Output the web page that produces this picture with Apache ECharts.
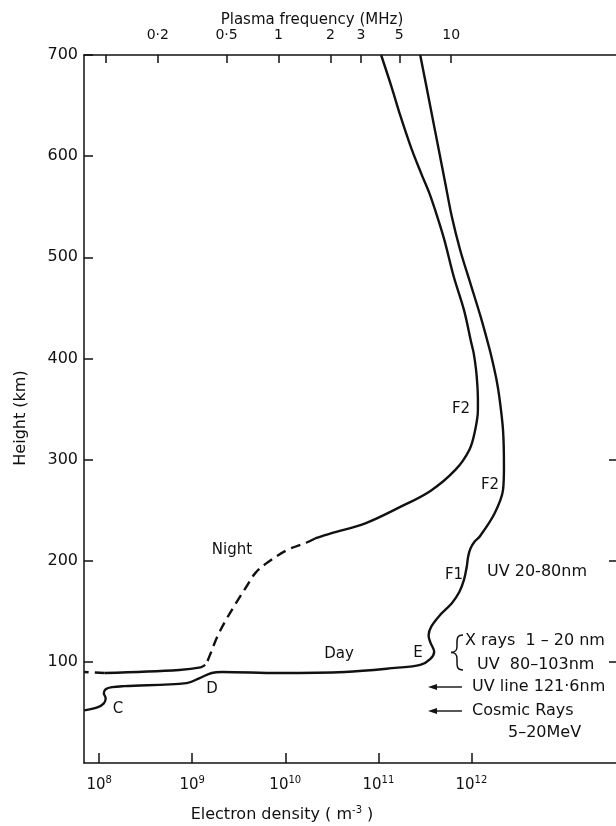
<!DOCTYPE html>
<html>
<head>
<meta charset="utf-8">
<script src="https://cdn.jsdelivr.net/npm/echarts@6/dist/echarts.min.js"></script>
<style>
html, body { margin: 0; padding: 0; background: #fff; }
#chart { width: 616px; height: 826px; }
</style>
</head>
<body>
<div id="chart"></div>
<script>
// log10 of electron density (m^-3) against height (km)
var dayProfile = [
	[7.84, 52], [7.98, 55], [8.05, 59], [8.07, 64], [8.05, 69], [8.07, 73], [8.14, 75],
	[8.27, 76], [8.94, 79], [9.08, 84], [9.21, 89], [9.32, 90], [9.93, 89], [10.64, 90],
	[11.18, 94], [11.45, 97], [11.56, 103], [11.60, 110], [11.56, 119], [11.54, 126],
	[11.57, 135], [11.67, 147], [11.79, 158], [11.87, 169], [11.92, 181], [11.95, 194],
	[11.965, 204], [11.99, 212], [12.035, 219], [12.09, 224], [12.25, 247], [12.34, 270],
	[12.35, 293], [12.34, 329], [12.30, 362], [12.27, 379], [12.225, 398], [12.19, 411],
	[12.10, 441], [11.99, 474], [11.88, 507], [11.79, 540], [11.72, 573], [11.65, 606],
	[11.58, 639], [11.51, 672], [11.45, 700]
];
var nightUpper = [
	[11.03, 700], [11.14, 669], [11.24, 639], [11.35, 609], [11.46, 583], [11.55, 563],
	[11.62, 544], [11.71, 517], [11.81, 481], [11.92, 448], [12.00, 415], [12.025, 405],
	[12.05, 389], [12.065, 372], [12.07, 360], [12.07, 349], [12.04, 329], [11.98, 310],
	[11.83, 290], [11.56, 269], [11.21, 252], [10.86, 237], [10.49, 227], [10.32, 222]
];
var nightDashed = [
	[10.32, 222], [10.23, 218], [10.03, 211], [9.82, 199], [9.68, 188], [9.58, 174],
	[9.47, 158], [9.36, 141], [9.27, 125], [9.20, 109], [9.16, 100], [9.14, 97]
];
var nightLower = [[9.14, 97], [9.09, 94.5], [8.86, 92], [8.06, 89]];
var nightEdge = [[8.06, 89], [7.84, 90]];

var densityTicks = [8, 9, 10, 11, 12];
var freqTicks = [0.1, 0.2, 0.5, 1, 2, 3, 5, 10];
var freqLabels = ['', '0·2', '0·5', '1', '2', '3', '5', '10'];
var heightRightTicks = [100, 200, 300];

var FONT = '"DejaVu Sans", sans-serif';
var INK = '#111';

var freqLog = freqTicks.map(function (f) { return Math.log10(f); });

function curve(data, dashed) {
	return {
		type: 'line',
		data: data,
		symbol: 'none',
		smooth: 0.35,
		silent: true,
		lineStyle: { color: INK, width: 2.4, type: dashed ? [10, 6] : 'solid' }
	};
}

function txt(s, x, y, size, align) {
	return {
		type: 'text', x: x, y: y,
		style: {
			text: s, font: size + 'px ' + FONT, fill: INK,
			align: align || 'center', verticalAlign: 'middle',
			textAlign: align || 'center', textVerticalAlign: 'middle'
		}
	};
}

function arrow(y) {
	return [
		{ type: 'line', shape: { x1: 434, y1: y, x2: 462, y2: y }, style: { stroke: INK, lineWidth: 1.4 } },
		{ type: 'polygon', shape: { points: [[428, y], [437, y - 3], [437, y + 3]] }, style: { fill: INK } }
	];
}

function bez(x1, y1, c1x, c1y, c2x, c2y, x2, y2) {
	return {
		type: 'bezierCurve',
		shape: { x1: x1, y1: y1, cpx1: c1x, cpy1: c1y, cpx2: c2x, cpy2: c2y, x2: x2, y2: y2 },
		style: { fill: null, stroke: INK, lineWidth: 1.5 }
	};
}

// curly brace in front of the X rays / UV lines
var brace = [
	bez(463, 635, 456, 635, 457, 640, 457, 646),
	bez(457, 646, 457, 650, 456, 652.5, 451, 652.5),
	bez(451, 652.5, 456, 652.5, 457, 655, 457, 659),
	bez(457, 659, 457, 665, 456, 670, 463, 670)
];

var chart = echarts.init(document.getElementById('chart'));

var option = {
	backgroundColor: '#fff',
	animation: false,
	grid: { left: 84, right: -4, top: 55, bottom: 63 },
	xAxis: [
		{
			type: 'value', position: 'bottom', min: 7.837, max: 13.554,
			splitLine: { show: false },
			axisLine: { onZero: false, lineStyle: { color: INK, width: 1.5 } },
			axisTick: { inside: true, length: 10, customValues: densityTicks, lineStyle: { color: INK, width: 1.5 } },
			axisLabel: {
				customValues: densityTicks, margin: 12, color: INK,
				formatter: function (v) { return '{b|10}{s|' + v + '}'; },
				rich: {
					b: { fontSize: 15, fontFamily: FONT, color: INK, verticalAlign: 'bottom' },
					s: { fontSize: 10, fontFamily: FONT, color: INK, verticalAlign: 'bottom', padding: [0, 0, 8, 0] }
				}
			}
		},
		{
			type: 'value', position: 'top', min: -1.1264, max: 1.954,
			splitLine: { show: false },
			axisLine: { onZero: false, lineStyle: { color: INK, width: 1.5 } },
			axisTick: { inside: true, length: 8, customValues: freqLog, lineStyle: { color: INK, width: 1.5 } },
			axisLabel: {
				customValues: freqLog.slice(1), margin: 13, color: INK, fontSize: 14, fontFamily: FONT,
				formatter: function (v) {
					var best = 0;
					for (var i = 0; i < freqLog.length; i++) {
						if (Math.abs(freqLog[i] - v) < Math.abs(freqLog[best] - v)) best = i;
					}
					return freqLabels[best];
				}
			}
		}
	],
	yAxis: [
		{
			type: 'value', position: 'left', min: 0, max: 700, interval: 100,
			splitLine: { show: false },
			axisLine: { show: true, onZero: false, lineStyle: { color: INK, width: 1.5 } },
			axisTick: { inside: true, length: 9, lineStyle: { color: INK, width: 1.5 } },
			axisLabel: { showMinLabel: false, margin: 6, color: INK, fontSize: 16, fontFamily: FONT }
		},
		{
			type: 'value', position: 'right', min: 0, max: 700,
			splitLine: { show: false },
			axisLine: { show: false, onZero: false },
			axisTick: { show: true, inside: true, length: 7, customValues: heightRightTicks, lineStyle: { color: INK, width: 1.5 } },
			axisLabel: { show: false }
		}
	],
	series: [
		curve(dayProfile, false),
		curve(nightUpper, false),
		curve(nightDashed, true),
		curve(nightLower, false),
		curve(nightEdge, true)
	],
	graphic: [
		txt('Plasma frequency (MHz)', 312, 20, 15),
		{
			type: 'text', x: 282, y: 815,
			style: {
				text: 'Electron density ( m{s|-3} )', font: '16px ' + FONT, fill: INK,
				align: 'center', verticalAlign: 'middle', textAlign: 'center', textVerticalAlign: 'middle',
				rich: { s: { fontSize: 10, fontFamily: FONT, fill: INK, padding: [0, 0, 9, 0] } }
			}
		},
		{
			type: 'text', x: 21, y: 418, rotation: Math.PI / 2,
			style: {
				text: 'Height (km)', font: '16px ' + FONT, fill: INK,
				align: 'center', verticalAlign: 'middle', textAlign: 'center', textVerticalAlign: 'middle'
			}
		},
		txt('Night', 232, 550, 15),
		txt('Day', 339, 654, 15),
		txt('E', 418, 653, 15),
		txt('D', 212, 689, 15),
		txt('C', 118, 709, 15),
		txt('F2', 461, 409, 15),
		txt('F2', 490, 485, 15),
		txt('F1', 454, 575, 15),
		txt('UV 20-80nm', 487, 572, 16, 'left'),
		txt('X rays  1 – 20 nm', 465, 641, 16, 'left'),
		txt('UV  80–103nm', 477, 665, 16, 'left'),
		txt('UV line 121·6nm', 472, 687, 16, 'left'),
		txt('Cosmic Rays', 472, 711, 16, 'left'),
		txt('5–20MeV', 508, 733, 16, 'left')
	].concat(brace, arrow(687), arrow(711))
};

chart.setOption(option);
</script>
</body>
</html>
